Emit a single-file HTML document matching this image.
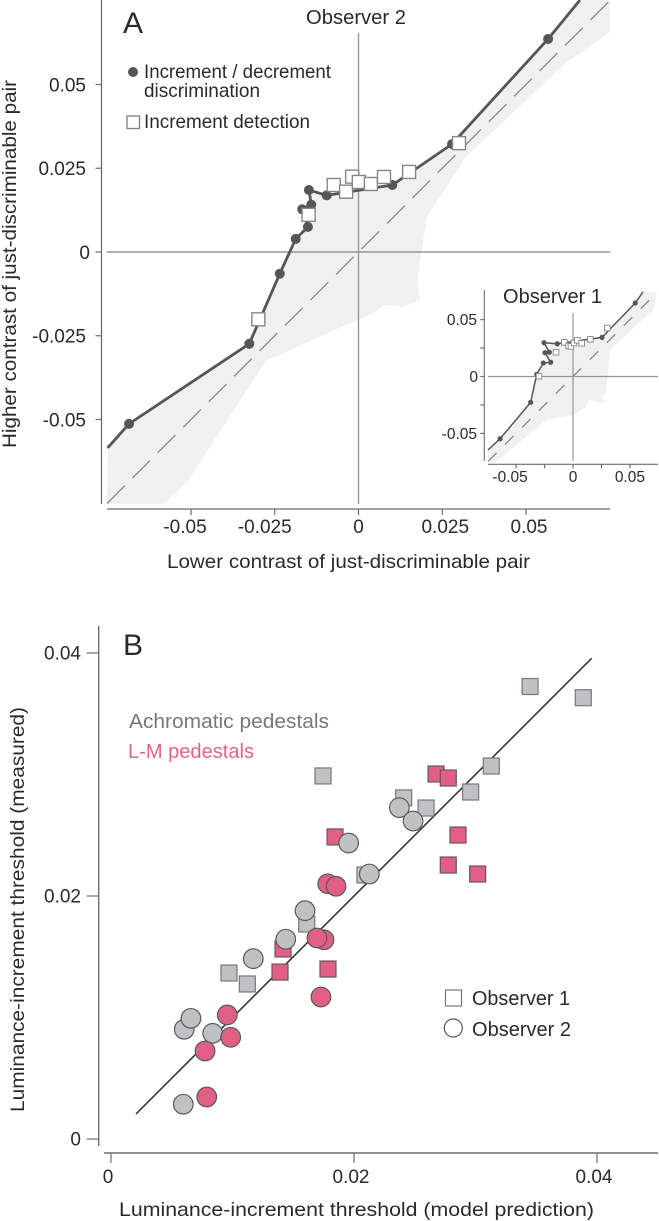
<!DOCTYPE html>
<html lang="en">
<head>
<meta charset="utf-8">
<title>Just-discriminable contrast pairs and luminance-increment thresholds</title>
<style>
html,body{margin:0;padding:0;background:#fff;width:659px;height:1221px;overflow:hidden}
svg{display:block;font-family:"Liberation Sans",sans-serif;fill:#2b2a2b}
text{fill:#2b2a2b}
</style>
</head>
<body>
<svg id="figure" width="659" height="1221" viewBox="0 0 659 1221" xmlns="http://www.w3.org/2000/svg">
  <g id="panelA"></g>
  <g id="panelInset"></g>
  <g id="panelB"></g>

  <text x="123" y="33" font-size="30">A</text>
  <text x="306" y="24" font-size="20" textLength="100" lengthAdjust="spacingAndGlyphs">Observer 2</text>
  <text x="503" y="303" font-size="20" textLength="99" lengthAdjust="spacingAndGlyphs">Observer 1</text>
  <circle cx="133" cy="72" r="5" style="fill:#555658"/>
  <text x="144" y="78" font-size="19.5" textLength="187" lengthAdjust="spacingAndGlyphs">Increment / decrement</text>
  <text x="144" y="97" font-size="19.5" textLength="116" lengthAdjust="spacingAndGlyphs">discrimination</text>
  <rect x="127" y="116" width="12.5" height="12.5" style="fill:#fff;stroke:#808080;stroke-width:1.3"/>
  <text x="144" y="128" font-size="19.5" textLength="166" lengthAdjust="spacingAndGlyphs">Increment detection</text>
  <text x="167" y="568" font-size="19.5" textLength="363" lengthAdjust="spacingAndGlyphs">Lower contrast of just-discriminable pair</text>
  <text x="16" y="264" font-size="19.5" text-anchor="middle" textLength="368" lengthAdjust="spacingAndGlyphs" transform="rotate(-90 16 264)">Higher contrast of just-discriminable pair</text>

  <text x="123" y="655" font-size="30">B</text>
  <text x="129" y="728" font-size="20" textLength="200" lengthAdjust="spacingAndGlyphs" style="fill:#77787b">Achromatic pedestals</text>
  <text x="128" y="758" font-size="20" textLength="126" lengthAdjust="spacingAndGlyphs" style="fill:#e5628a">L-M pedestals</text>
  <rect x="445.5" y="990" width="16" height="16" style="fill:#fff;stroke:#777;stroke-width:1.2"/>
  <text x="472" y="1005" font-size="20" textLength="98" lengthAdjust="spacingAndGlyphs">Observer 1</text>
  <circle cx="453.3" cy="1028" r="9" style="fill:#fff;stroke:#555;stroke-width:1.2"/>
  <text x="472" y="1036" font-size="20" textLength="99" lengthAdjust="spacingAndGlyphs">Observer 2</text>
  <text x="119" y="1216" font-size="19.5" textLength="475" lengthAdjust="spacingAndGlyphs">Luminance-increment threshold (model prediction)</text>
  <text x="24" y="909.5" font-size="19.5" text-anchor="middle" textLength="405" lengthAdjust="spacingAndGlyphs" transform="rotate(-90 24 909.5)">Luminance-increment threshold (measured)</text>
</svg>

<script>
// ---------- Panel A: Observer 2 ----------
const obs2TickValues = [-0.05, -0.025, 0, 0.025, 0.05];
const obs2TickLabels = ['-0.05', '-0.025', '0', '0.025', '0.05'];
const obs2DotsX = [-0.0685, -0.0326, -0.0235, -0.01875, -0.0151, -0.0168, -0.0141, -0.0148, -0.0095, 0.0101, 0.0279, 0.0566];
const obs2DotsY = [-0.0513, -0.0274, -0.0065, 0.0039, 0.0075, 0.01275, 0.0141, 0.0185, 0.0169, 0.02, 0.0322, 0.0636];
const obs2SquaresX = [-0.0299, -0.0149, -0.0074, -0.0037, -0.0019, 0.0001, 0.0037, 0.0076, 0.0151, 0.03];
const obs2SquaresY = [-0.0201, 0.0111, 0.02, 0.018, 0.0225, 0.0209, 0.0203, 0.0224, 0.0239, 0.0325];
const obs2LineStart = [-0.0749, -0.0585];
const obs2LineEnd = [0.0661, 0.0752];
const obs2ShadeLowerX = [0.0751, 0.0751, 0.0619, 0.0321, 0.0204, 0.0184, 0.0175, 0.0184, 0.0133, 0.0079, 0.0043, -0.0276, -0.0512, -0.0581, -0.0751];
const obs2ShadeLowerY = [0.0752, 0.0657, 0.0564, 0.0284, 0.0104, -0.0024, -0.0093, -0.0143, -0.0164, -0.0158, -0.0182, -0.0325, -0.0687, -0.0752, -0.0752];

// ---------- Inset: Observer 1 ----------
const obs1TickValues = [-0.05, -0.025, 0, 0.025, 0.05];
const obs1TickLabels = ['-0.05', '', '0', '', '0.05'];
const obs1DotsX = [-0.0641, -0.0372, -0.0319, -0.0261, -0.0196, -0.0246, -0.0208, -0.0255, -0.0138, 0.0255, 0.0547];
const obs1DotsY = [-0.0547, -0.0227, 0.0019, 0.0119, 0.0125, 0.0209, 0.0213, 0.0297, 0.0288, 0.0344, 0.0646];
const obs1SquaresX = [-0.0299, -0.0149, -0.0076, -0.0038, -0.0018, 0.0009, 0.0038, 0.0076, 0.0152, 0.0301];
const obs1SquaresY = [0.0002, 0.0213, 0.03, 0.0268, 0.0265, 0.0294, 0.0318, 0.0292, 0.0327, 0.0426];
const obs1LineStart = [-0.0747, -0.0646];
const obs1LineEnd = [0.0615, 0.0743];
const obs1ShadeLowerX = [0.0738, 0.0703, 0.0325, 0.0287, 0.0243, 0.0296, 0.0134, 0.012, 0, -0.0231, -0.0679, -0.0747];
const obs1ShadeLowerY = [0.0743, 0.0584, 0.0233, -0.0163, -0.0169, -0.0242, -0.0207, -0.0265, -0.0338, -0.0382, -0.0749, -0.0749];

// ---------- Panel B ----------
const thresholdTickValues = [0, 0.02, 0.04];
const thresholdTickLabels = ['0', '0.02', '0.04'];
const fitLineEnds = [0.00206, 0.03956];
const grayObs1X = [0.01745, 0.02409, 0.02593, 0.0296, 0.0313, 0.03449, 0.03887, 0.0209, 0.01611, 0.00971, 0.01122];
const grayObs1Y = [0.02988, 0.02807, 0.02724, 0.02856, 0.0307, 0.03724, 0.03632, 0.02173, 0.0177, 0.01366, 0.01276];
const pinkObs1X = [0.02675, 0.02776, 0.02856, 0.02776, 0.03018, 0.01844, 0.01416, 0.01391, 0.01786];
const pinkObs1Y = [0.03004, 0.02971, 0.02502, 0.02255, 0.02181, 0.02486, 0.01564, 0.01374, 0.01399];
const grayObs2X = [0.01956, 0.02126, 0.01597, 0.02373, 0.02486, 0.01438, 0.01171, 0.00603, 0.00658, 0.00837, 0.00595];
const grayObs2Y = [0.02436, 0.02181, 0.01879, 0.02727, 0.02617, 0.01644, 0.01484, 0.00903, 0.00993, 0.0087, 0.00286];
const pinkObs2X = [0.01784, 0.01852, 0.01753, 0.01695, 0.01728, 0.00957, 0.00985, 0.00774, 0.00788];
const pinkObs2Y = [0.02101, 0.0208, 0.0164, 0.01654, 0.01169, 0.01021, 0.00837, 0.00724, 0.00346];

const NS = 'http://www.w3.org/2000/svg';
function make(parent, tag, attrs, style) {
  const el = document.createElementNS(NS, tag);
  for (const k in attrs) el.setAttribute(k, attrs[k]);
  if (style) el.setAttribute('style', style);
  parent.appendChild(el);
  return el;
}
function pointsOf(xs, ys, sx, sy) {
  return xs.map((x, i) => sx(x).toFixed(2) + ',' + sy(ys[i]).toFixed(2)).join(' ');
}

// ---------- Panel A and inset share one drawing routine ----------
function drawContrastPanel(g, cfg) {
  const sx = v => cfg.x0 + cfg.k * v;
  const sy = v => cfg.y0 - cfg.k * v;
  const lineX = [cfg.lineStart[0], ...cfg.dotsX, cfg.lineEnd[0]];
  const lineY = [cfg.lineStart[1], ...cfg.dotsY, cfg.lineEnd[1]];

  const shade = make(g, 'polygon', {
    points: pointsOf(lineX.concat(cfg.shadeX), lineY.concat(cfg.shadeY), sx, sy)
  }, 'fill:#f0f0f0;stroke:none');
  
  

  const yAxis = make(g, 'line', {x1: cfg.yAxisX, x2: cfg.yAxisX, y1: cfg.yAxisTop, y2: cfg.yAxisBottom}, 'stroke:#6d6e70;stroke-width:' + cfg.axisW);
  
  

  const xAxis = make(g, 'line', {x1: cfg.xAxisLeft, x2: cfg.xAxisRight, y1: cfg.xAxisY, y2: cfg.xAxisY}, 'stroke:#6d6e70;stroke-width:' + cfg.axisW);
  
  

  cfg.ticks.forEach((v, i) => {
    const yt = make(g, 'line', {x1: cfg.yAxisX - cfg.tick, x2: cfg.yAxisX, y1: sy(v), y2: sy(v)}, 'stroke:#6d6e70;stroke-width:1.2');
    
    

    const xt = make(g, 'line', {x1: sx(v), x2: sx(v), y1: cfg.xAxisY, y2: cfg.xAxisY + cfg.tick}, 'stroke:#6d6e70;stroke-width:1.2');
    
    

    const label = cfg.labels[i];
    if (!label) return;
    const yl = make(g, 'text', {
      x: cfg.yLabelX + (label === '0' ? cfg.zeroShift : 0),
      y: sy(v) + cfg.fs * 0.36,
      'font-size': cfg.fs,
      'text-anchor': 'end'
    });
    
    
    yl.textContent = label;

    let shift = 0;
    if (v < 0) shift = -cfg.negShift - (label.length - 5) * 4;
    else if (v > 0) shift = cfg.posShift;
    const xl = make(g, 'text', {
      x: sx(v) + shift,
      y: cfg.xLabelY,
      'font-size': cfg.fs,
      'text-anchor': 'middle'
    });
    
    
    xl.textContent = label;
  });

  const vZero = make(g, 'line', {x1: sx(0), x2: sx(0), y1: cfg.crossTop, y2: cfg.crossBottom}, 'stroke:#949598;stroke-width:' + cfg.crossW);
  
  

  const hZero = make(g, 'line', {x1: cfg.xAxisLeft, x2: cfg.xAxisRight, y1: sy(0), y2: sy(0)}, 'stroke:#949598;stroke-width:' + cfg.crossW);
  
  

  const diag = make(g, 'line', {
    x1: sx(cfg.diag[0]), y1: sy(cfg.diag[0]), x2: sx(cfg.diag[1]), y2: sy(cfg.diag[1])
  }, 'stroke:#8e8f92;stroke-width:1.4;stroke-dasharray:' + cfg.dash);
  
  

  const path = make(g, 'polyline', {points: pointsOf(lineX, lineY, sx, sy)},
    'fill:none;stroke:#555658;stroke-linejoin:round;stroke-width:' + cfg.lineW);
  
  

  cfg.dotsX.forEach((x, i) => {
    const d = make(g, 'circle', {cx: sx(x), cy: sy(cfg.dotsY[i]), r: cfg.dotR}, 'fill:#555658');
    
    
  });

  cfg.squaresX.forEach((x, i) => {
    const s = make(g, 'rect', {
      x: sx(x) - cfg.sq / 2, y: sy(cfg.squaresY[i]) - cfg.sq / 2, width: cfg.sq, height: cfg.sq
    }, 'fill:#fff;stroke:#858688;stroke-width:' + cfg.sqW);
    
    
  });
}

drawContrastPanel(document.getElementById('panelA'), {
  x0: 358.5, y0: 252, k: 3350,
  ticks: obs2TickValues, labels: obs2TickLabels,
  dotsX: obs2DotsX, dotsY: obs2DotsY, squaresX: obs2SquaresX, squaresY: obs2SquaresY,
  lineStart: obs2LineStart, lineEnd: obs2LineEnd, shadeX: obs2ShadeLowerX, shadeY: obs2ShadeLowerY,
  yAxisX: 101.5, yAxisTop: 0, yAxisBottom: 504, xAxisY: 509, xAxisLeft: 107, xAxisRight: 610,
  axisW: 1.3, tick: 6, fs: 19, yLabelX: 86, zeroShift: 4, xLabelY: 533, negShift: 6, posShift: 3,
  crossTop: 33, crossBottom: 504, crossW: 1.4, diag: [-0.0751, 0.0752], dash: '25 11',
  lineW: 2.8, dotR: 5, sq: 13, sqW: 1.4
});

drawContrastPanel(document.getElementById('panelInset'), {
  x0: 573, y0: 376.5, k: 1138,
  ticks: obs1TickValues, labels: obs1TickLabels,
  dotsX: obs1DotsX, dotsY: obs1DotsY, squaresX: obs1SquaresX, squaresY: obs1SquaresY,
  lineStart: obs1LineStart, lineEnd: obs1LineEnd, shadeX: obs1ShadeLowerX, shadeY: obs1ShadeLowerY,
  yAxisX: 484.3, yAxisTop: 290, yAxisBottom: 461, xAxisY: 464.3, xAxisLeft: 488, xAxisRight: 658,
  axisW: 1.1, tick: 4, fs: 15.5, yLabelX: 477, zeroShift: 1, xLabelY: 482, negShift: 6, posShift: 0,
  crossTop: 313, crossBottom: 461, crossW: 1.2, diag: [-0.0747, 0.0738], dash: '12 12',
  lineW: 1.5, dotR: 2.6, sq: 5.6, sqW: 0.9
});

// ---------- Panel B ----------
(function () {
  const g = document.getElementById('panelB');
  const sx = v => 111 + 12150 * v;
  const sy = v => 1139 - 12150 * v;

  const yAxis = make(g, 'line', {x1: 98.7, x2: 98.7, y1: 626, y2: 1146}, 'stroke:#6d6e70;stroke-width:1.4');
  
  

  const xAxis = make(g, 'line', {x1: 104, x2: 658, y1: 1153, y2: 1153}, 'stroke:#6d6e70;stroke-width:1.4');
  
  

  thresholdTickValues.forEach((v, i) => {
    const yt = make(g, 'line', {x1: 86.7, x2: 98.7, y1: sy(v), y2: sy(v)}, 'stroke:#6d6e70;stroke-width:1.2');
    
    

    const xt = make(g, 'line', {x1: sx(v), x2: sx(v), y1: 1153, y2: 1163}, 'stroke:#6d6e70;stroke-width:1.2');
    
    

    const yl = make(g, 'text', {x: 81, y: sy(v) + 6.5, 'font-size': 19, 'text-anchor': 'end'});
    
    
    yl.textContent = thresholdTickLabels[i];

    const xl = make(g, 'text', {x: sx(v) - 3, y: 1183, 'font-size': 19, 'text-anchor': 'middle'});
    
    
    xl.textContent = thresholdTickLabels[i];
  });

  const fit = make(g, 'line', {
    x1: sx(fitLineEnds[0]), y1: sy(fitLineEnds[0]), x2: sx(fitLineEnds[1]), y2: sy(fitLineEnds[1])
  }, 'stroke:#333436;stroke-width:1.6');
  
  

  const GRAY = '#c0c1c3';
  const PINK = '#e15f85';

  grayObs1X.forEach((x, i) => {
    const s = make(g, 'rect', {x: sx(x) - 8, y: sy(grayObs1Y[i]) - 8, width: 16, height: 16},
      'fill:' + GRAY + ';stroke:#77787a;stroke-width:1.2');
    
    
  });
  pinkObs1X.forEach((x, i) => {
    const s = make(g, 'rect', {x: sx(x) - 8, y: sy(pinkObs1Y[i]) - 8, width: 16, height: 16},
      'fill:' + PINK + ';stroke:#66565c;stroke-width:1.2');
    
    
  });
  grayObs2X.forEach((x, i) => {
    const c = make(g, 'circle', {cx: sx(x), cy: sy(grayObs2Y[i]), r: 9.8},
      'fill:' + GRAY + ';stroke:#58595b;stroke-width:1.2');
    
    
  });
  pinkObs2X.forEach((x, i) => {
    const c = make(g, 'circle', {cx: sx(x), cy: sy(pinkObs2Y[i]), r: 9.8},
      'fill:' + PINK + ';stroke:#58595b;stroke-width:1.2');
    
    
  });
})();
</script>
</body>
</html>
